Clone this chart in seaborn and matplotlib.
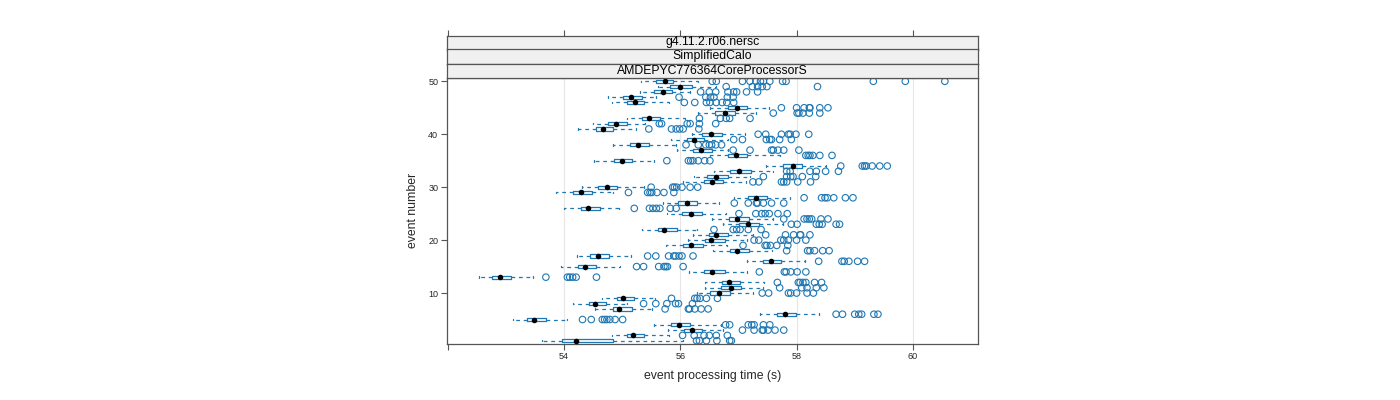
import numpy as np
import pandas as pd
import matplotlib
matplotlib.use("Agg")
import matplotlib.pyplot as plt
import seaborn as sns

# ---------------- data ----------------
events = list(range(1, 51))

whisker_low = [53.63, 54.83, 55.79, 55.55, 53.12, 57.37, 54.54, 54.16, 54.66, 56.28,
               56.42, 56.42, 52.54, 56.15, 53.95, 57.15, 54.22, 56.57, 55.75, 56.14,
               56.22, 55.34, 56.73, 56.54, 55.78, 54.01, 55.71, 56.93, 53.87, 54.31,
               56.05, 56.23, 56.58, 57.48, 54.52, 56.51, 55.94, 54.85, 55.85, 56.20,
               54.25, 54.50, 55.08, 56.31, 56.51, 54.82, 54.76, 55.31, 55.62, 55.32]
q1 = [53.96, 55.08, 56.06, 55.84, 53.36, 57.67, 54.84, 54.44, 54.91, 56.52,
      56.70, 56.71, 52.77, 56.41, 54.24, 57.43, 54.45, 56.85, 56.05, 56.42,
      56.50, 55.62, 57.01, 56.84, 56.03, 54.29, 55.96, 57.17, 54.16, 54.59,
      56.41, 56.46, 56.85, 57.77, 54.86, 56.82, 56.22, 55.13, 56.11, 56.38,
      54.55, 54.76, 55.35, 56.60, 56.82, 55.08, 55.02, 55.55, 55.83, 55.59]
median = [54.20, 55.19, 56.20, 55.98, 53.48, 57.80, 54.95, 54.54, 55.02, 56.67,
          56.87, 56.84, 52.90, 56.55, 54.36, 57.56, 54.59, 56.98, 56.18, 56.53,
          56.61, 55.72, 57.17, 56.97, 56.19, 54.42, 56.11, 57.31, 54.30, 54.74,
          56.54, 56.62, 57.01, 57.94, 55.00, 56.96, 56.35, 55.27, 56.23, 56.53,
          54.68, 54.89, 55.47, 56.77, 56.97, 55.22, 55.16, 55.70, 55.99, 55.74]
q3 = [54.85, 55.38, 56.37, 56.16, 53.69, 57.99, 55.17, 54.73, 55.21, 56.85,
      57.04, 57.03, 53.09, 56.77, 54.55, 57.74, 54.78, 57.19, 56.39, 56.77,
      56.82, 55.94, 57.36, 57.19, 56.37, 54.62, 56.29, 57.50, 54.48, 54.91,
      56.74, 56.82, 57.21, 58.10, 55.17, 57.15, 56.54, 55.47, 56.41, 56.71,
      54.85, 55.08, 55.65, 56.94, 57.14, 55.38, 55.34, 55.86, 56.20, 55.87]
whisker_high = [56.05, 55.80, 56.74, 56.70, 54.06, 58.39, 55.52, 55.09, 55.57, 57.25,
                57.42, 57.44, 53.47, 57.15, 54.97, 58.15, 55.15, 57.57, 56.80, 57.14,
                57.25, 56.29, 57.76, 57.60, 56.78, 54.95, 56.66, 57.89, 54.85, 55.38,
                57.13, 57.20, 57.60, 58.50, 55.55, 57.71, 56.82, 55.93, 56.82, 57.11,
                55.24, 55.39, 56.09, 57.31, 57.53, 55.81, 55.58, 56.17, 56.61, 56.31]
outliers = [
    [56.28, 56.33, 56.45, 56.63, 56.85, 56.88],
    [56.04, 56.24, 56.41, 56.50, 56.62, 56.81],
    [57.07, 57.27, 57.41, 57.43, 57.51, 57.63, 57.78],
    [56.78, 56.85, 57.17, 57.23, 57.27, 57.43, 57.54],
    [54.32, 54.47, 54.66, 54.70, 54.74, 54.79, 54.88, 55.01],
    [58.68, 58.79, 59.00, 59.07, 59.12, 59.33, 59.40],
    [55.74, 56.14, 56.16, 56.25, 56.36, 56.48],
    [55.37, 55.58, 55.77, 55.92, 55.97, 56.21],
    [55.85, 56.25, 56.29, 56.34, 56.45, 56.64],
    [57.41, 57.52, 57.86, 57.90, 58.00, 58.18, 58.29],
    [57.71, 58.09, 58.18, 58.34, 58.47],
    [57.67, 58.03, 58.06, 58.11, 58.16, 58.31, 58.43],
    [53.69, 54.06, 54.10, 54.15, 54.21, 54.56],
    [57.36, 57.79, 57.82, 57.90, 58.01, 58.16],
    [55.25, 55.37, 55.63, 55.72, 55.75, 55.78, 56.05],
    [58.38, 58.78, 58.82, 58.90, 59.05, 59.17],
    [55.44, 55.58, 55.80, 55.89, 55.92, 55.98, 56.03, 56.22],
    [57.83, 58.19, 58.23, 58.31, 58.45, 58.56],
    [57.08, 57.46, 57.49, 57.55, 57.66, 57.85],
    [57.27, 57.35, 57.73, 57.78, 57.86, 58.00, 58.16],
    [57.47, 57.81, 57.95, 58.06, 58.07, 58.23],
    [56.58, 56.91, 56.97, 57.03, 57.17, 57.39],
    [57.91, 58.01, 58.34, 58.39, 58.44, 58.68, 58.74],
    [57.78, 58.13, 58.18, 58.22, 58.26, 58.42, 58.54],
    [57.01, 57.30, 57.40, 57.46, 57.53, 57.68, 57.84],
    [55.21, 55.47, 55.53, 55.59, 55.65, 55.83, 55.93],
    [56.93, 57.17, 57.31, 57.33, 57.43, 57.57, 57.78],
    [58.13, 58.43, 58.49, 58.53, 58.64, 58.84, 58.97],
    [55.11, 55.44, 55.48, 55.51, 55.60, 55.72, 55.89],
    [55.50, 55.87, 55.90, 55.94, 56.03, 56.17, 56.30],
    [57.25, 57.35, 57.74, 57.78, 57.83, 58.02, 58.24],
    [57.43, 57.83, 57.90, 57.94, 58.10, 58.33],
    [57.83, 57.89, 58.23, 58.34, 58.50, 58.72],
    [58.76, 59.13, 59.17, 59.20, 59.30, 59.43, 59.56],
    [55.77, 56.14, 56.18, 56.22, 56.31, 56.42, 56.51],
    [58.16, 58.20, 58.23, 58.28, 58.40, 58.61],
    [56.91, 57.20, 57.57, 57.60, 57.68, 57.78, 58.04],
    [56.10, 56.31, 56.44, 56.50, 56.54, 56.61, 56.71],
    [56.92, 57.07, 57.48, 57.54, 57.57, 57.71, 57.91],
    [57.34, 57.47, 57.74, 57.86, 57.89, 57.99, 58.21],
    [55.46, 55.85, 55.93, 55.99, 56.05, 56.32],
    [55.64, 55.68, 56.12, 56.17, 56.33, 56.61],
    [56.33, 56.69, 56.79, 56.85, 57.20],
    [57.60, 58.01, 58.04, 58.11, 58.22, 58.40],
    [57.74, 58.00, 58.13, 58.22, 58.23, 58.40, 58.54],
    [56.07, 56.25, 56.45, 56.51, 56.62, 56.72, 56.80, 56.92],
    [55.98, 56.44, 56.52, 56.58, 56.81, 56.91],
    [56.35, 56.50, 56.61, 56.82, 56.92, 56.97, 57.14, 57.33],
    [56.79, 57.24, 57.33, 57.41, 57.49, 58.36],
    [56.55, 56.62, 57.07, 57.20, 57.30, 57.38, 57.43, 57.54, 57.76, 57.82,
     59.32, 59.87, 60.55],
]
strip_labels = ["g4.11.2.r06.nersc", "SimplifiedCalo", "AMDEPYC776364CoreProcessorS"]
x_ticks = [52, 54, 56, 58, 60]
x_ticklabels = ["", "54", "56", "58", "60"]
y_ticks = [10, 20, 30, 40, 50]

# ---------------- tables ----------------
box_df = pd.DataFrame({
    "event": np.repeat(events, 5),
    "time": np.column_stack([whisker_low, q1, median, q3, whisker_high]).ravel(),
})
out_df = pd.DataFrame({
    "event": [e for e, vals in zip(events, outliers) for _ in vals],
    "time": [v for vals in outliers for v in vals],
})
med_df = pd.DataFrame({"event": events, "time": median})

# ---------------- style ----------------
sns.set_style("white")
plt.rcParams["font.family"] = ["Liberation Sans", "DejaVu Sans"]

blue = "#1f78b4"
frame = "#555555"
W, H = 1400, 400
px_l, px_r, px_t, px_b = 447, 978, 77.5, 343.5
strip_h = 14

fig = plt.figure(figsize=(14, 4), dpi=100)
ax = fig.add_axes([px_l / W, 1 - px_b / H, (px_r - px_l) / W, (px_b - px_t) / H])

for v in x_ticks[1:]:
    ax.axvline(v, color="#e6e6e6", lw=0.8, zorder=0)

sns.boxplot(data=box_df, x="time", y="event", orient="y", native_scale=True,
            whis=(0, 100), width=0.6, fill=False, color=blue, linewidth=0.9,
            medianprops={"linewidth": 0},
            whiskerprops={"linestyle": (0, (3, 3))},
            capwidths=0.3, ax=ax)

sns.scatterplot(data=out_df, x="time", y="event", color=blue, s=22,
                linewidth=0.8, ax=ax, zorder=4, legend=False)
pc = ax.collections[-1]
pc.set_facecolor("none")
pc.set_edgecolor(blue)

sns.scatterplot(data=med_df, x="time", y="event", color="black", s=16,
                linewidth=0, ax=ax, zorder=5, legend=False)

ax.set_xlim(51.99, 61.12)
ax.set_ylim(0.47, 50.72)
ax.set_xticks(x_ticks)
ax.set_xticklabels(x_ticklabels)
ax.set_yticks(y_ticks)
ax.set_yticklabels([str(t) for t in y_ticks])
ax.tick_params(axis="both", which="both", direction="out", length=4.3, width=0.8,
               color=frame, labelsize=6.5, pad=2, left=True, bottom=True,
               top=False, right=False)
ax.set_xlabel("event processing time (s)", fontsize=8.8, labelpad=6)
ax.set_ylabel("event number", fontsize=8.8, labelpad=7)
for s in ax.spines.values():
    s.set_color(frame)
    s.set_linewidth(0.9)

# strips
for i, lab in enumerate(strip_labels):
    top_px = px_t - (len(strip_labels) - i) * strip_h
    sax = fig.add_axes([px_l / W, 1 - (top_px + strip_h) / H,
                        (px_r - px_l) / W, strip_h / H])
    sax.set_facecolor("#f0f0f0")
    sax.set_xlim(ax.get_xlim())
    sax.set_ylim(0, 1)
    sax.set_yticks([])
    if i == 0:
        sax.set_xticks(x_ticks)
        sax.tick_params(axis="x", top=True, bottom=False, labeltop=False,
                        labelbottom=False, direction="out", length=4.3,
                        width=0.8, color=frame)
    else:
        sax.set_xticks([])
    for s in sax.spines.values():
        s.set_color(frame)
        s.set_linewidth(0.9)
    sax.text(0.5, 0.5, lab, transform=sax.transAxes, ha="center", va="center",
             fontsize=8.8, color="black")

fig.savefig("out.png", dpi=100)
